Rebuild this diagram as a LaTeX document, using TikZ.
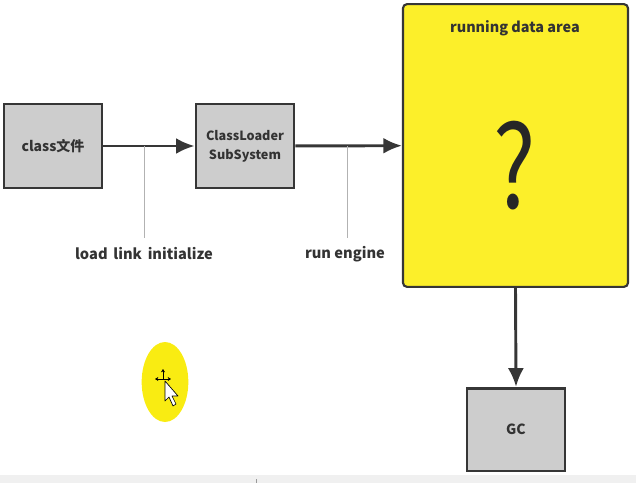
\documentclass[tikz,border=0pt]{standalone}
\usepackage{fontspec}
\setmainfont{Noto Sans CJK SC}
\usepackage{tikz}
\usetikzlibrary{arrows.meta, calc}
\definecolor{boxgray}{HTML}{CDCDCD}
\definecolor{linegray}{HTML}{363636}
\definecolor{areayellow}{HTML}{FCEF2A}
\definecolor{hilite}{HTML}{F9EC12}

\begin{document}
\begin{tikzpicture}[
            x=0.75pt, y=-0.75pt,
            box/.style={draw=linegray, line width=2pt, fill=boxgray, text=black!80,
                        minimum width=73.5pt, minimum height=63pt, align=center,
                        font=\fontsize{9.5}{11}\selectfont\bfseries},
            flow/.style={draw=linegray, line width=2.2pt, -{Latex[length=14pt, width=12pt]}},
            leader/.style={draw=black!30, line width=0.6pt},
            tag/.style={text=black!80, font=\fontsize{11}{13}\selectfont\bfseries},
            move/.style={black, line width=0.7pt, -{Stealth[length=2.5pt, width=3pt]}}]

        \useasboundingbox (0,0) rectangle (636,483);
        \fill[black!6] (0,475) rectangle (636,483);
        \draw[black!40, line width=0.5pt] (256,479) -- (256,483);

        \node[box, font=\fontsize{10.5}{12}\selectfont\bfseries] (classfile) at (53,146) {class文件};
        \node[box] (loader) at (245,146) {ClassLoader\\[3pt]SubSystem};
        \node[draw=linegray, line width=1.6pt, fill=areayellow, rounded corners=3pt,
              minimum width=168.75pt, minimum height=212pt] (area) at (515.5,145.5) {};
        \node[tag, font=\fontsize{10.8}{13}\selectfont\bfseries] (areatitle) at (515,28) {running data area};
        \node[text=black!85, font=\fontsize{86}{86}\selectfont, xscale=0.78] (mark) at (515,166) {?};
        \node[box, minimum height=62pt, font=\fontsize{10.5}{12}\selectfont\bfseries] (gc) at (516,429.5) {GC};

        \draw[flow] (classfile) -- (loader) coordinate[midway] (m1);
        \draw[flow] (loader) -- (area) coordinate[midway] (m2);
        \draw[flow] (area.south) -- (gc.north);

        \node[tag] (steps) at (144,254) {load\, link\, initialize};
        \node[tag] (engine) at (345,254) {run engine};
        \draw[leader] ($(m1)+(-5,0)$) -- ($(m1)+(-5,92)$);
        \draw[leader] ($(m2)+(-1,0)$) -- ($(m2)+(-1,92)$);

        % pointer highlight
        \fill[hilite] (165,382) ellipse[x radius=17.5pt, y radius=30pt];
        \draw[move] (163,379) -- (163,369);
        \draw[move] (163,379) -- (155,379);
        \draw[move] (163,379) -- (171,379);
        \draw[black, fill=white, line width=0.5pt, line join=round]
            (165,381) -- (165,401) -- (169,397) -- (173,406) -- (176,404) -- (172,396) -- (178,396) -- cycle;
    \end{tikzpicture}
\end{document}
